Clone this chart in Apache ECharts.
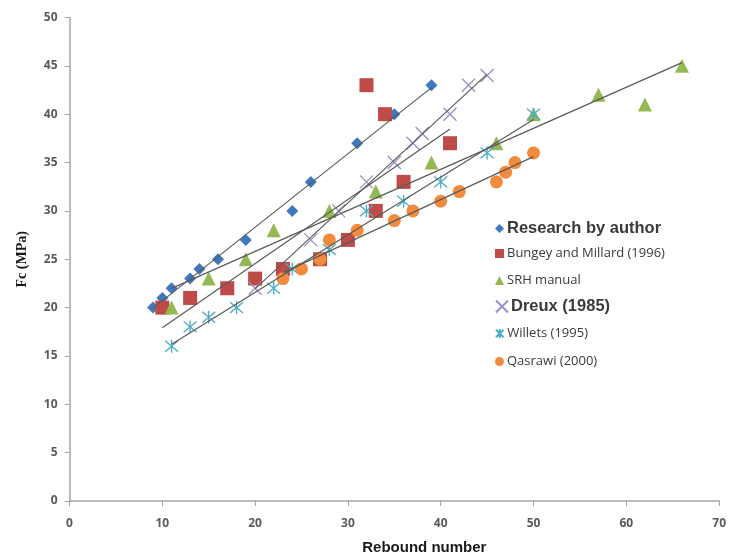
<!DOCTYPE html>
<html><head><meta charset="utf-8">
<script src="https://cdn.jsdelivr.net/npm/echarts@6/dist/echarts.min.js"></script>
<style>html,body{margin:0;padding:0;background:#fff}#c{width:729px;height:560px}</style>
</head><body><div id="c"></div>
<script>
// ---- data ----
const seriesNames = ['Research by author','Bungey and Millard (1996)','SRH manual','Dreux (1985)','Willets (1995)','Qasrawi (2000)'];
const researchByAuthor = [[9,20],[10,21],[11,22],[13,23],[14,24],[16,25],[19,27],[24,30],[26,33],[31,37],[35,40],[39,43]];
const bungeyMillard = [[10,20],[13,21],[17,22],[20,23],[23,24],[27,25],[30,27],[33,30],[36,33],[41,37],[32,43],[34,40]];
const srhManual = [[11,20],[15,23],[19,25],[22,28],[28,30],[33,32],[39,35],[46,37],[50,40],[57,42],[62,41],[66,45]];
const dreux = [[20,22],[26,27],[29,30],[32,33],[35,35],[37,37],[38,38],[41,40],[43,43],[45,44]];
const willets = [[11,16],[13,18],[15,19],[18,20],[22,22],[24,24],[28,26],[32,30],[36,31],[40,33],[45,36],[50,40]];
const qasrawi = [[23,23],[25,24],[27,25],[28,27],[31,28],[35,29],[37,30],[40,31],[42,32],[46,33],[47,34],[48,35],[50,36]];
const xTickLabels = [0,10,20,30,40,50,60,70];
const yTickLabels = [0,5,10,15,20,25,30,35,40,45,50];

const allData = [researchByAuthor,bungeyMillard,srhManual,dreux,willets,qasrawi];
const colors = ['#3F78BD','#BE4B48','#94B953','#9A8EC4','#4BACC6','#F38B3C'];
const symbols = ['diamond','rect','triangle','path://M0,0L20,20M20,0L0,20','path://M0,0L20,20M20,0L0,20M10,-2L10,22','circle'];
const sizes = [12,14,14,13,13,13];

function linFit(d){
  const n=d.length; let sx=0,sy=0,sxx=0,sxy=0,mn=Infinity,mx=-Infinity;
  d.forEach(([x,y])=>{sx+=x;sy+=y;sxx+=x*x;sxy+=x*y;mn=Math.min(mn,x);mx=Math.max(mx,x);});
  const b=(n*sxy-sx*sy)/(n*sxx-sx*sx), a=(sy-b*sx)/n;
  return [[mn,a+b*mn],[mx,a+b*mx]];
}

const series=[];
allData.forEach((d,i)=>{
  const stroke = i===3||i===4;
  series.push({
    name: seriesNames[i], type:'scatter', data:d, symbol:symbols[i], symbolSize:sizes[i], z:2,
    itemStyle: stroke ? {color:'rgba(255,255,255,0)', borderColor:colors[i], borderWidth:1.3, opacity:1}
                      : {color:colors[i], opacity:1},
    emphasis:{disabled:true}
  });
});
allData.forEach((d,i)=>{
  series.push({
    name:'trend'+i, type:'line', data:linFit(d), symbol:'none', z:3,
    lineStyle:{color:'#5a5a5a', width:1.2}, silent:true
  });
});

const legendTops = [220,247,274,298,327,355];
const legendIcons = ['diamond','rect','triangle','path://M0,0L20,20M20,0L0,20','path://M0,0L20,20M20,0L0,20M10,-2L10,22','circle'];
const legends = seriesNames.map((nm,i)=>{
  const big = (i===0||i===3);
  return {
    data:[{name:nm, icon:legendIcons[i]}], left:495, top:legendTops[i], orient:'vertical',
    itemWidth: i===3?12:9, itemHeight: i===3?12:9, itemGap:0, padding:0, selectedMode:false,
    textStyle: big ? {fontFamily:'Liberation Sans', fontWeight:'bold', fontSize:16.5, color:'#3a3a3a', padding:[0,0,0,-2]}
                   : {fontFamily:'Open Sans', fontSize:13, color:'#3a3a3a', padding:[0,0,0,-2]}
  };
});

const axisLbl = {fontFamily:'Open Sans', fontSize:12, color:'#5a5a5a', fontWeight:'bold'};
const option = {
  animation:false,
  backgroundColor:'#fff',
  grid:{left:69.5, right:7.5, top:17.5, bottom:58, containLabel:false},
  legend: legends,
  xAxis:{type:'value', min:xTickLabels[0], max:xTickLabels[xTickLabels.length-1], interval:10,
    splitLine:{show:false},
    axisLine:{lineStyle:{color:'#a6a6a6', width:1.5}},
    axisTick:{show:true, inside:false, length:5, lineStyle:{color:'#a6a6a6'}},
    axisLabel:Object.assign({margin:17}, axisLbl),
    name:'Rebound number', nameLocation:'middle', nameGap:39,
    nameTextStyle:{fontFamily:'Liberation Sans', fontWeight:'bold', fontSize:15, color:'#1a1a1a', padding:[0,0,0,60]}
  },
  yAxis:{type:'value', min:yTickLabels[0], max:yTickLabels[yTickLabels.length-1], interval:5,
    splitLine:{show:false},
    axisLine:{show:true, lineStyle:{color:'#a6a6a6', width:1.5}},
    axisTick:{show:true, inside:false, length:5, lineStyle:{color:'#a6a6a6'}},
    axisLabel:Object.assign({margin:12}, axisLbl),
    name:'Fc (MPa)', nameLocation:'middle', nameGap:40,
    nameTextStyle:{fontFamily:'Liberation Serif', fontWeight:'bold', fontSize:14, color:'#1a1a1a'}
  },
  series: series
};
const chart = echarts.init(document.getElementById('c'), null, {renderer:'canvas'});
chart.setOption(option);
</script>
</body></html>
